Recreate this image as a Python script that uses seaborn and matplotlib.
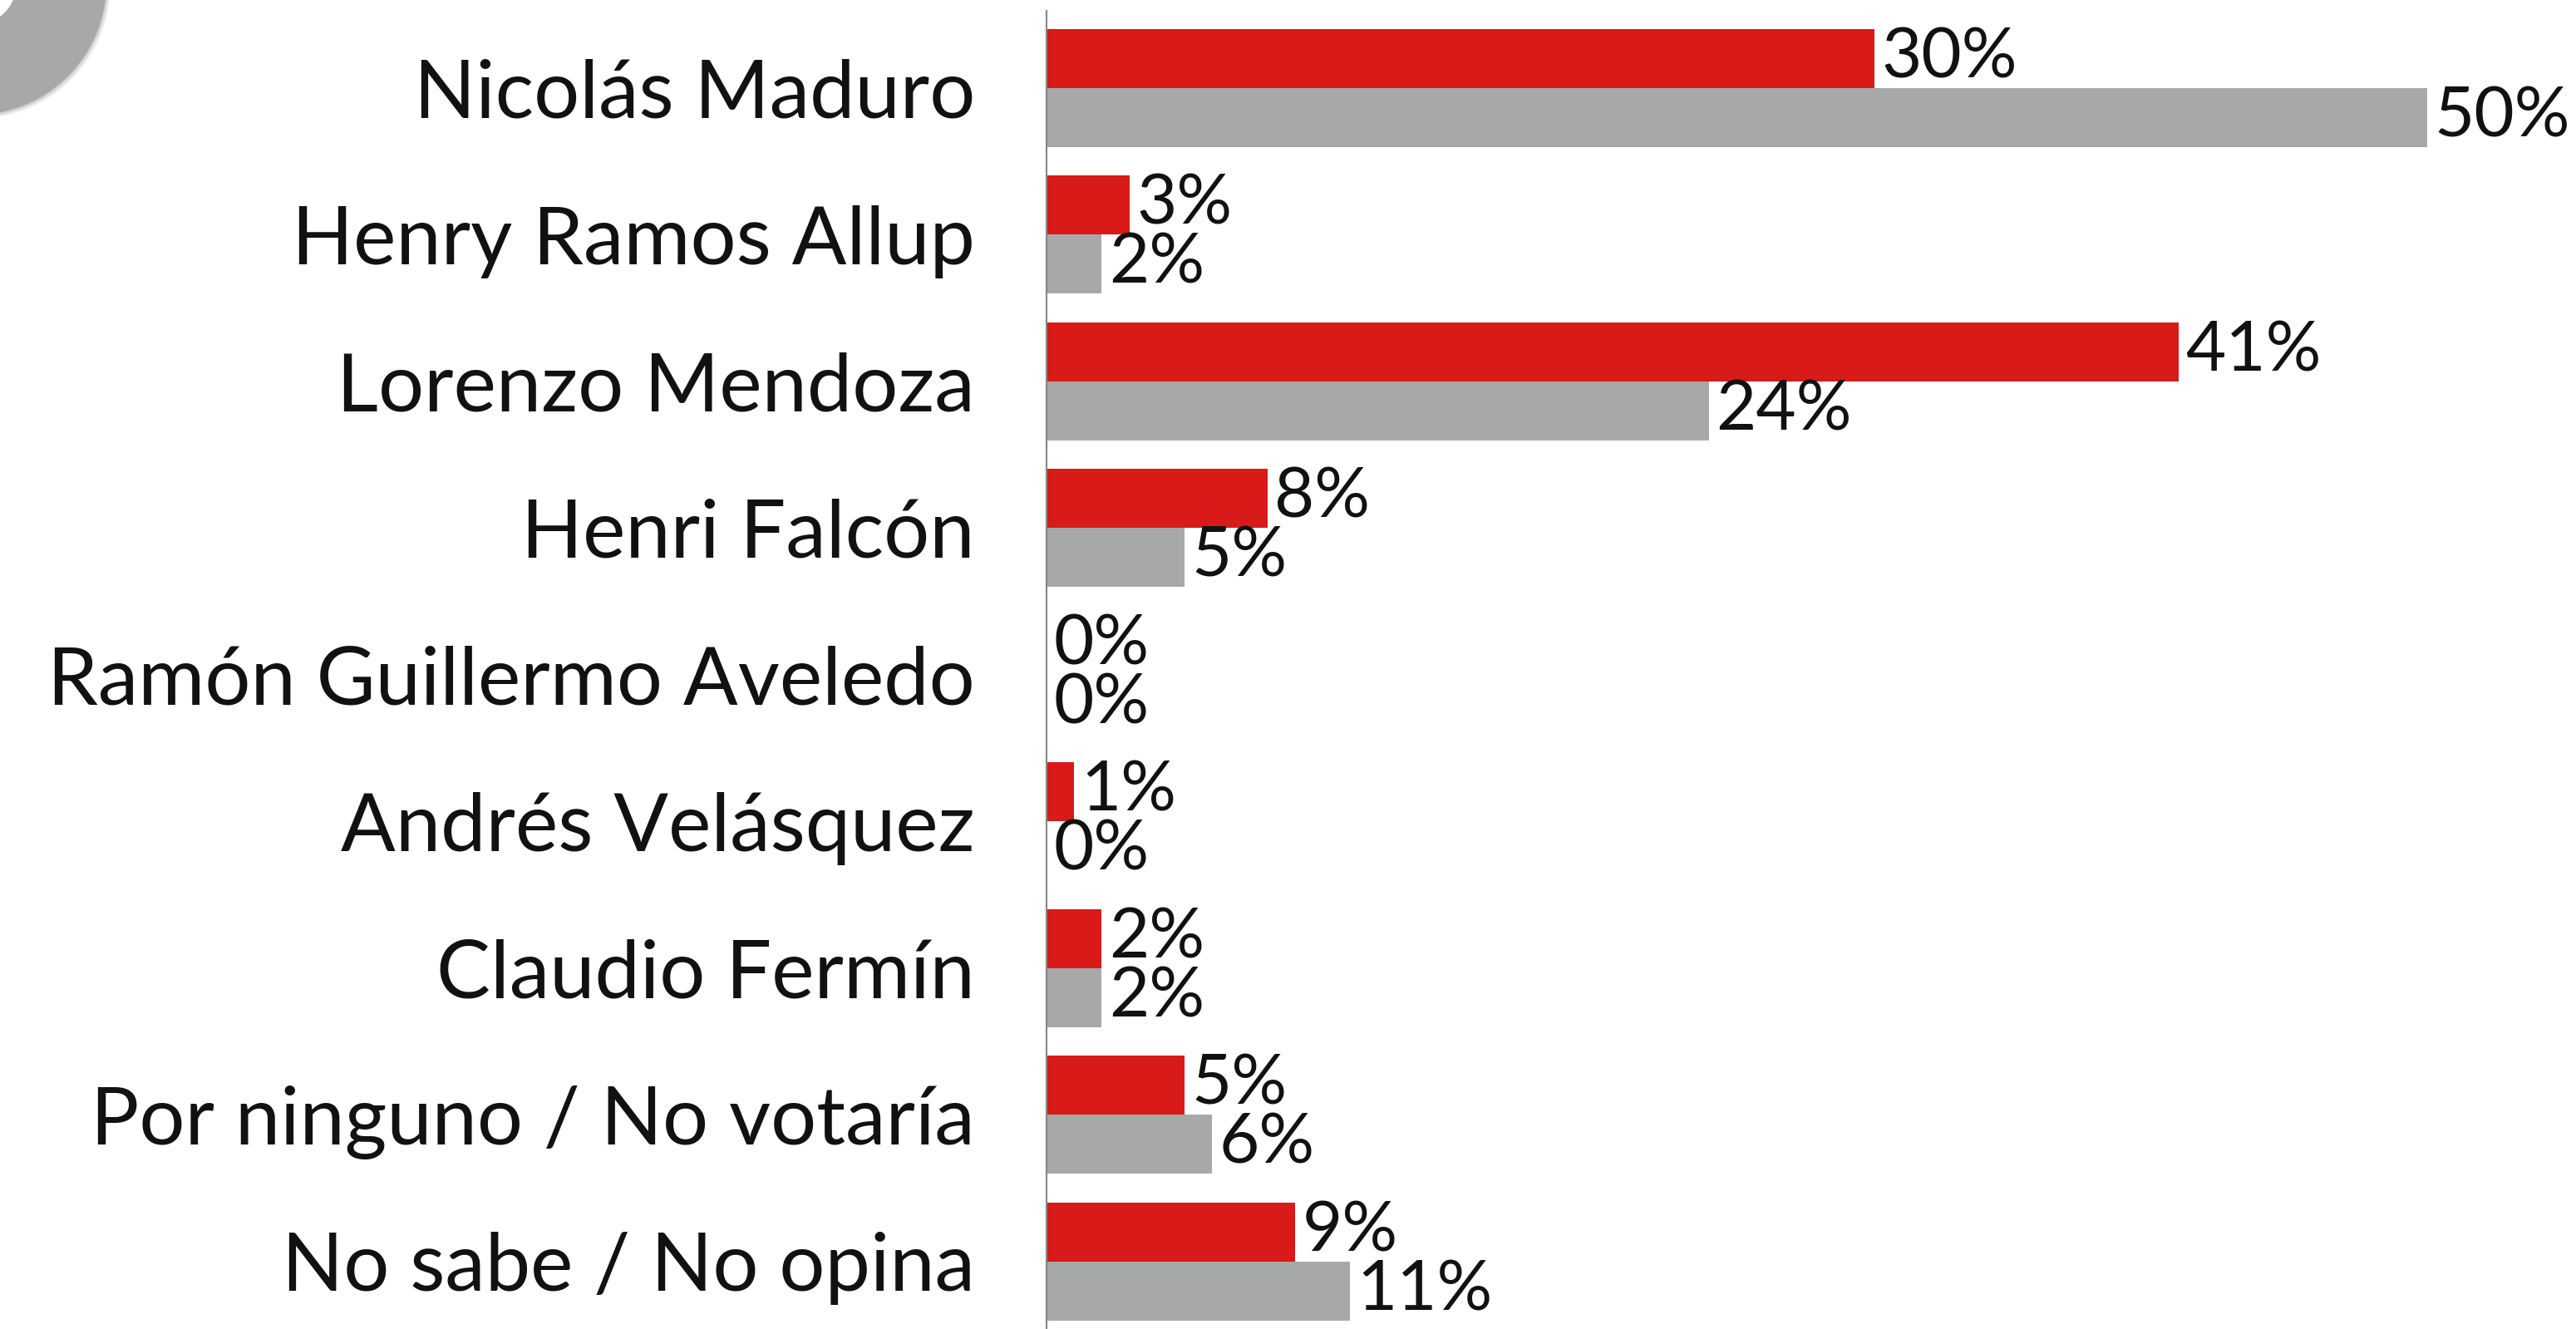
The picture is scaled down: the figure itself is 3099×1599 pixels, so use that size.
import matplotlib
matplotlib.use("Agg")
import matplotlib.pyplot as plt
from matplotlib.patches import Wedge
import pandas as pd
import seaborn as sns

# Candidates and the two series of voting intention (%)
candidatos = [
    "Nicolás Maduro",
    "Henry Ramos Allup",
    "Lorenzo Mendoza",
    "Henri Falcón",
    "Ramón Guillermo Aveledo",
    "Andrés Velásquez",
    "Claudio Fermín",
    "Por ninguno / No votaría",
    "No sabe / No opina",
]
serie_roja = [30, 3, 41, 8, 0, 1, 2, 5, 9]
serie_gris = [50, 2, 24, 5, 0, 0, 2, 6, 11]
series = ["serie_roja", "serie_gris"]

ROJO = "#D81A19"
GRIS = "#A6A9A8"

df = pd.DataFrame({
    "candidato": candidatos * 2,
    "valor": serie_roja + serie_gris,
    "serie": [series[0]] * len(candidatos) + [series[1]] * len(candidatos),
})

sns.set_theme(style="white")
plt.rcParams["font.family"] = ["Lato", "DejaVu Sans"]

W, H, DPI = 3099, 1599, 100
fig = plt.figure(figsize=(W / DPI, H / DPI), dpi=DPI)
ax = fig.add_axes([1259 / W, 0.0, 1 - 1259 / W, 1 - 13 / H])

sns.barplot(
    data=df, y="candidato", x="valor", hue="serie",
    order=candidatos, hue_order=series,
    palette=[ROJO, GRIS], saturation=1, width=0.805,
    orient="h", legend=False, linewidth=0, ax=ax,
)

ax.set_xlim(0, 55.4)
ax.set_ylim(8.461, -0.527)
ax.set_xlabel("")
ax.set_ylabel("")
ax.set_xticks([])
for s in ["top", "right", "bottom"]:
    ax.spines[s].set_visible(False)
ax.spines["left"].set_color("#858585")
ax.spines["left"].set_linewidth(1.5)

ax.tick_params(axis="y", length=0, pad=62, labelsize=70, labelcolor="#111111")

# value labels at the end of each bar
for cont in ax.containers:
    for rect, v in zip(cont.patches, cont.datavalues):
        y = rect.get_y() + rect.get_height() / 2
        ax.annotate(
            f"{v:g}%", xy=(v, y), xytext=(6, 0), textcoords="offset points",
            ha="left", va="center", fontsize=60, color="#111111",
            annotation_clip=False,
        )

# decorative ring in the top-left corner, with a soft shadow
cx, cy = -30 / DPI, (H + 20) / DPI
R, RW = 158 / DPI, 108 / DPI
for i, a in enumerate([0.05, 0.05, 0.05, 0.05]):
    d = (i + 1) / DPI
    fig.patches.append(Wedge((cx + d * 0.6, cy - d * 0.6), R + d * 0.6, 0, 360, width=RW,
                             transform=fig.dpi_scale_trans, facecolor="black",
                             alpha=a, edgecolor="none", zorder=0))
fig.patches.append(Wedge((cx, cy), R, 0, 360, width=RW,
                         transform=fig.dpi_scale_trans, facecolor=GRIS,
                         edgecolor="none", zorder=1))

fig.savefig("out.png", dpi=DPI)
